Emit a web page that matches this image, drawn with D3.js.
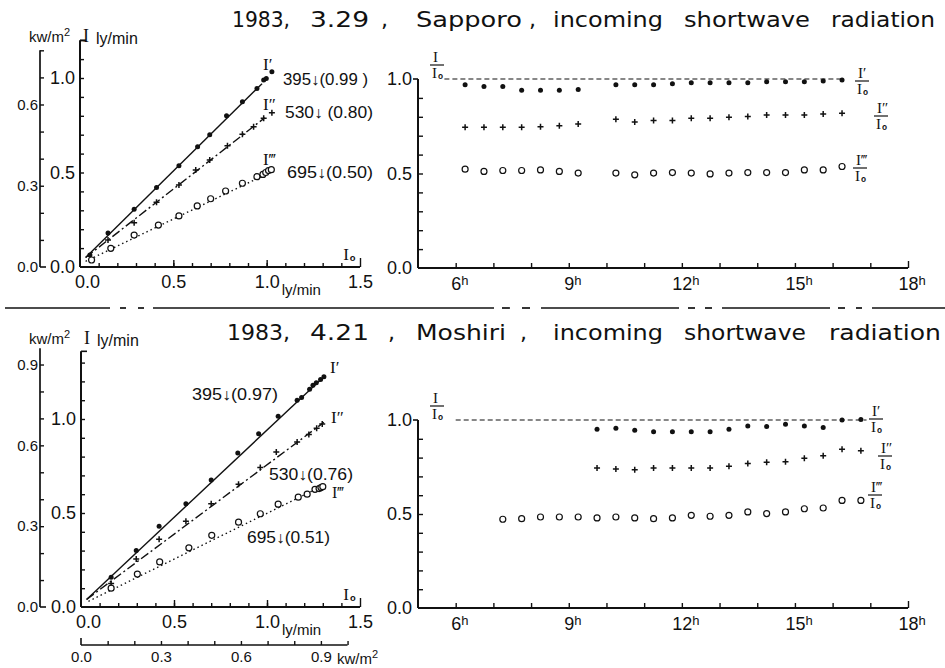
<!DOCTYPE html>
<html><head><meta charset="utf-8">
<script src="https://cdn.jsdelivr.net/npm/d3@7/dist/d3.min.js"></script>
<style>body{margin:0;background:#fff}svg{display:block;background:#fff}</style>
</head><body>
<svg id="c" width="945" height="668"></svg>
<script>
// ---------------- DATA ----------------
const LY2KW = 0.6978; // 1 ly/min = 0.6978 kW/m2

// Top-left (Sapporo): I vs I0, ly/min
const sapI0_1 = [0.053,0.15,0.29,0.41,0.53,0.63,0.695,0.785,0.87,0.948,0.984,0.998,1.028];
const sapI1   = [0.063,0.18,0.305,0.42,0.536,0.636,0.70,0.80,0.875,0.945,0.99,0.998,1.033];
const sapI0_2 = [0.15,0.29,0.41,0.53,0.62,0.695,0.79,0.87,0.93,0.984,1.028];
const sapI2   = [0.143,0.234,0.342,0.434,0.513,0.566,0.642,0.702,0.742,0.787,0.816];
const sapI0_3 = [0.062,0.165,0.29,0.42,0.53,0.628,0.70,0.78,0.87,0.948,0.98,0.995,1.01,1.025];
const sapI3   = [0.037,0.099,0.169,0.222,0.27,0.323,0.361,0.402,0.443,0.478,0.49,0.5,0.51,0.515];
const sapFit1 = [[0.03,0.05],[0.975,0.97]];
const sapFit2 = [[0.03,0.05],[0.99,0.79]];
const sapFit3 = [[0.03,0.03],[0.975,0.48]];

// Bottom-left (Moshiri)
const mosI0_1 = [0.162,0.297,0.42,0.564,0.70,0.843,0.955,1.06,1.162,1.186,1.229,1.247,1.265,1.288,1.306];
const mosI1   = [0.158,0.30,0.43,0.549,0.675,0.819,0.921,1.014,1.10,1.114,1.158,1.18,1.193,1.21,1.225];
const mosI0_2 = [0.162,0.297,0.42,0.564,0.70,0.847,0.964,1.05,1.162,1.225,1.267,1.297];
const mosI2   = [0.125,0.255,0.36,0.456,0.549,0.653,0.742,0.825,0.877,0.918,0.951,0.974];
const mosI0_3 = [0.162,0.303,0.423,0.58,0.703,0.847,0.964,1.06,1.168,1.216,1.258,1.28,1.29,1.30];
const mosI3   = [0.10,0.175,0.24,0.315,0.381,0.451,0.496,0.547,0.584,0.60,0.626,0.63,0.635,0.64];
const mosFit1 = [[0.03,0.04],[1.306,1.225]];
const mosFit2 = [[0.03,0.04],[1.306,0.982]];
const mosFit3 = [[0.04,0.03],[1.30,0.645]];

// Top-right (Sapporo): ratios vs hour
const sapHours = [6.25,6.75,7.25,7.75,8.25,8.75,9.25,10.25,10.75,11.25,11.75,12.25,12.75,13.25,13.75,14.25,14.75,15.25,15.75,16.25];
const sapR1 = [0.97,0.96,0.96,0.94,0.94,0.94,0.945,0.97,0.97,0.97,0.975,0.98,0.98,0.98,0.98,0.985,0.985,0.985,0.99,0.995];
const sapR2 = [0.745,0.745,0.745,0.745,0.748,0.752,0.762,0.787,0.773,0.78,0.78,0.792,0.792,0.798,0.801,0.81,0.81,0.81,0.815,0.819];
const sapR3 = [0.523,0.511,0.516,0.516,0.519,0.511,0.502,0.502,0.493,0.502,0.505,0.502,0.498,0.502,0.505,0.505,0.505,0.519,0.519,0.537];
const sapRefLine = [5.7,16.3];

// Bottom-right (Moshiri)
const mosHoursA = [9.75,10.25,10.75,11.25,11.75,12.25,12.75,13.25,13.75,14.25,14.75,15.25,15.75,16.25,16.75];
const mosR1 = [0.951,0.956,0.945,0.937,0.937,0.938,0.938,0.951,0.968,0.965,0.977,0.968,0.96,1.0,1.003];
const mosR2 = [0.745,0.739,0.736,0.745,0.745,0.745,0.745,0.754,0.769,0.775,0.778,0.796,0.81,0.845,0.836];
const mosHoursB = [7.25,7.75,8.25,8.75,9.25,9.75,10.25,10.75,11.25,11.75,12.25,12.75,13.25,13.75,14.25,14.75,15.25,15.75,16.25,16.75];
const mosR3 = [0.472,0.475,0.484,0.484,0.484,0.479,0.484,0.479,0.475,0.479,0.493,0.488,0.493,0.511,0.502,0.511,0.528,0.532,0.572,0.572];
const mosRefLine = [6.0,16.9];

// Tick labels
const lyTicks = [0, 0.5, 1.0];            const lyTickLabels = ["0.0","0.5","1.0"];
const lyXTicks = [0, 0.5, 1.0, 1.5];      const lyXTickLabels = ["0.0","0.5","1.0","1.5"];
const kwTicksTop = [0, 0.3, 0.6];         const kwTickLabelsTop = ["0.0","0.3","0.6"];
const kwTicksBot = [0, 0.3, 0.6, 0.9];    const kwTickLabelsBot = ["0.0","0.3","0.6","0.9"];
const ratioTicks = [0, 0.5, 1.0];         const ratioTickLabels = ["0.0","0.5","1.0"];
const hourTicks = [6, 9, 12, 15, 18];     const hourTickLabels = ["6","9","12","15","18"];

const titleTop = ["1983,","3.29",",","Sapporo",",","incoming","shortwave","radiation"];
const titleBot = ["1983,","4.21",",","Moshiri",",","incoming","shortwave","radiation"];

// ---------------- DRAWING ----------------
const INK = "#111";
const SANS = "'Liberation Sans', Arial, sans-serif";
const TSANS = "'DejaVu Sans', 'Liberation Sans', sans-serif";
const SERIF = "'Liberation Serif', 'DejaVu Serif', serif";
const svg = d3.select("#c");

function styleAxis(s, size, fam) {
  s.select(".domain").remove();
  s.attr("font-size", size).attr("font-family", fam).attr("color", INK);
  s.selectAll("line").attr("stroke-width", 1.4);
}
function vline(g, x, y1, y2, w) {
  g.append("line").attr("x1", x).attr("x2", x).attr("y1", y1).attr("y2", y2)
    .attr("stroke", INK).attr("stroke-width", w || 2);
}
function hline(g, y, x1, x2, w) {
  g.append("line").attr("x1", x1).attr("x2", x2).attr("y1", y).attr("y2", y)
    .attr("stroke", INK).attr("stroke-width", w || 2);
}
function txt(g, x, y, s, size, fam, anchor) {
  return g.append("text").attr("x", x).attr("y", y).text(s)
    .attr("font-size", size).attr("font-family", fam || SANS)
    .attr("fill", INK).attr("text-anchor", anchor || "start");
}
function sym(g, kind, px, py) {
  if (kind === "dot") g.append("circle").attr("cx", px).attr("cy", py).attr("r", 2.5).attr("fill", INK);
  else if (kind === "plus") g.append("path").attr("d", `M${px-3},${py}H${px+3}M${px},${py-3}V${py+3}`).attr("stroke", INK).attr("stroke-width", 1.5);
  else g.append("circle").attr("cx", px).attr("cy", py).attr("r", 3).attr("fill", "#fff").attr("stroke", INK).attr("stroke-width", 1.2);
}
function Io(g, x, y, size) {
  const t = txt(g, x, y, "I", size, SERIF);
  t.append("tspan").attr("font-family", SANS).attr("font-weight", "bold")
    .attr("font-size", size * 0.55).attr("dy", 1).attr("dx", 1).text("o");
  return t;
}
// fraction I(primes) / Io drawn as one text element with stacked tspans
function frac(g, cx, barY, primes) {
  const fs = 15;
  const t = g.append("text").attr("font-family", SERIF).attr("font-size", fs).attr("fill", INK);
  t.append("tspan").attr("x", cx - 4).attr("y", barY - 3).text("I" + primes);
  t.append("tspan").attr("x", cx - 5).attr("y", barY + 13).text("I");
  t.append("tspan").attr("font-family", SANS).attr("font-weight", "bold")
    .attr("font-size", fs * 0.55).attr("dy", 1).attr("dx", 1).text("o");
  hline(g, barY, cx - 7, cx + 7, 1.2);
}
function title(g, parts, xs, base, lens) {
  parts.forEach((p, i) => {
    const t = txt(g, xs[i], base, p, 22, TSANS);
    if (lens[i]) t.attr("textLength", lens[i]).attr("lengthAdjust", "spacingAndGlyphs");
  });
}

// ---------- Left panels ----------
function leftPanel(c) {
  const g = svg.append("g");
  const x = d3.scaleLinear().domain([0, 1.5]).range([c.xl, c.xr]);
  const y = d3.scaleLinear().domain([0, 1]).range([c.yb, c.yt]);
  const kwY = d3.scaleLinear().domain([0, 1]).range([c.yb, y(1 / LY2KW)]);

  // main vertical axis (ly/min)
  vline(g, x(0), y(0), y(c.yTop));
  g.append("g").attr("transform", `translate(${x(0)},0)`)
    .call(d3.axisRight(y).tickValues(d3.range(0.1, c.yTop + 0.001, 0.1)).tickSize(4).tickFormat(""))
    .call(s => styleAxis(s, 12, SANS));
  hline(g, y(c.yTop), x(0), x(0) + 6, 1.6);
  g.append("g").attr("transform", `translate(${x(0) - 5},0)`)
    .call(d3.axisLeft(y).tickValues(lyTicks).tickSize(0).tickPadding(0).tickFormat((d, i) => lyTickLabels[i]))
    .call(s => styleAxis(s, 18, SANS));

  // secondary vertical axis (kW/m2)
  vline(g, c.kwX, kwY(0), kwY(c.kwTop), 1.7);
  g.append("g").attr("transform", `translate(${c.kwX},0)`)
    .call(d3.axisRight(kwY).tickValues(d3.range(0.1, c.kwTop + 0.001, 0.1)).tickSize(4).tickFormat(""))
    .call(s => styleAxis(s, 12, SANS));
  hline(g, kwY(0), c.kwX, c.kwX + 6, 1.6);
  g.append("g").attr("transform", `translate(${c.kwX - 2},0)`)
    .call(d3.axisLeft(kwY).tickValues(c.kwTicks).tickSize(0).tickPadding(0).tickFormat((d, i) => c.kwLabels[i]))
    .call(s => styleAxis(s, 15, SANS));

  // horizontal axis (I0 ly/min)
  hline(g, y(0), x(0), x(1.5));
  g.append("g").attr("transform", `translate(0,${y(0)})`)
    .call(d3.axisTop(x).tickValues(d3.range(0.1, 1.45, 0.1)).tickSize(4).tickFormat(""))
    .call(s => styleAxis(s, 12, SANS));
  g.append("g").attr("transform", `translate(0,${y(0)})`)
    .call(d3.axisTop(x).tickValues([0.5, 1.0]).tickSize(7).tickFormat(""))
    .call(s => styleAxis(s, 12, SANS));
  g.append("g").attr("transform", `translate(0,${y(0)})`)
    .call(d3.axisTop(x).tickValues([1.5]).tickSize(9).tickFormat(""))
    .call(s => styleAxis(s, 12, SANS));
  const xl = g.append("g").attr("transform", `translate(0,${y(0)})`)
    .call(d3.axisBottom(x).tickValues(lyXTicks).tickSize(0).tickPadding(8).tickFormat((d, i) => lyXTickLabels[i]))
    .call(s => styleAxis(s, 18, SANS));
  xl.selectAll(".tick text").filter(d => d === 0).attr("x", 7);
  txt(g, x(1.0) + 15, y(0) + 28, "ly/min", 15, SANS);
  Io(g, x(1.41), y(0) - 7, 17);

  // axis titles
  const k = txt(g, c.kwX - 11, c.titleY, "kw/m", 15, SANS);
  k.append("tspan").attr("dy", -6).attr("font-size", 11).text("2");
  txt(g, x(0) + 3, c.titleY, "I", 18, SERIF);
  txt(g, x(0) + 16, c.titleY + 2, "ly/min", 16, SANS);

  // lines
  const ln = d3.line().x(d => x(d[0])).y(d => y(d[1]));
  g.append("path").attr("d", ln(c.fit1)).attr("fill", "none").attr("stroke", INK).attr("stroke-width", 1.4);
  g.append("path").attr("d", ln(c.fit2)).attr("fill", "none").attr("stroke", INK).attr("stroke-width", 1.4).attr("stroke-dasharray", "9,3,2,3");
  g.append("path").attr("d", ln(c.fit3)).attr("fill", "none").attr("stroke", INK).attr("stroke-width", 1.4).attr("stroke-dasharray", "1.5,3");

  // points
  c.s1x.forEach((v, i) => sym(g, "dot", x(v), y(c.s1y[i])));
  c.s2x.forEach((v, i) => sym(g, "plus", x(v), y(c.s2y[i])));
  c.s3x.forEach((v, i) => sym(g, "ring", x(v), y(c.s3y[i])));
  return { g, x, y };
}

// Top-left
const tl = leftPanel({
  xl: 80, xr: 360, yb: 267, yt: 78, yTop: 1.2, kwX: 40, kwTop: 0.8, titleY: 42,
  kwTicks: kwTicksTop, kwLabels: kwTickLabelsTop,
  fit1: sapFit1, fit2: sapFit2, fit3: sapFit3,
  s1x: sapI0_1, s1y: sapI1, s2x: sapI0_2, s2y: sapI2, s3x: sapI0_3, s3y: sapI3
});
txt(tl.g, 263, 70, "I\u2032", 17, SERIF);
txt(tl.g, 263, 110, "I\u2033", 17, SERIF);
txt(tl.g, 263, 165, "I\u2034", 17, SERIF);
txt(tl.g, 283, 85, "395\u2193(0.99 )", 16, SANS).attr("textLength", 85).attr("lengthAdjust", "spacingAndGlyphs");
txt(tl.g, 285, 118, "530\u2193 (0.80)", 16, SANS).attr("textLength", 88).attr("lengthAdjust", "spacingAndGlyphs");
txt(tl.g, 287, 178, "695\u2193(0.50)", 16, SANS).attr("textLength", 86).attr("lengthAdjust", "spacingAndGlyphs");

// Bottom-left
const bl = leftPanel({
  xl: 81, xr: 360, yb: 607, yt: 419, yTop: 1.36, kwX: 40, kwTop: 0.96, titleY: 344,
  kwTicks: kwTicksBot, kwLabels: kwTickLabelsBot,
  fit1: mosFit1, fit2: mosFit2, fit3: mosFit3,
  s1x: mosI0_1, s1y: mosI1, s2x: mosI0_2, s2y: mosI2, s3x: mosI0_3, s3y: mosI3
});
{
  // secondary horizontal axis (kW/m2)
  const kx = d3.scaleLinear().domain([0, 1]).range([bl.x(0), bl.x(1 / LY2KW)]);
  hline(bl.g, 645, kx(0), kx(1.0), 1.7);
  bl.g.append("g").attr("transform", `translate(0,645)`)
    .call(d3.axisTop(kx).tickValues(d3.range(0.1, 1.001, 0.1)).tickSize(4).tickFormat(""))
    .call(s => styleAxis(s, 12, SANS));
  vline(bl.g, kx(0), 645, 638, 1.6);
  bl.g.append("g").attr("transform", `translate(0,645)`)
    .call(d3.axisBottom(kx).tickValues(kwTicksBot).tickSize(0).tickPadding(6).tickFormat((d, i) => kwTickLabelsBot[i]))
    .call(s => styleAxis(s, 15, SANS));
  const k2 = txt(bl.g, 337, 664, "kw/m", 15, SANS);
  k2.append("tspan").attr("dy", -6).attr("font-size", 11).text("2");
}
txt(bl.g, 330, 373, "I\u2032", 17, SERIF);
txt(bl.g, 331, 423, "I\u2033", 17, SERIF);
txt(bl.g, 332, 498, "I\u2034", 16, SERIF);
txt(bl.g, 192, 400, "395\u2193(0.97)", 16, SANS).attr("textLength", 86).attr("lengthAdjust", "spacingAndGlyphs");
txt(bl.g, 269, 480, "530\u2193(0.76)", 16, SANS).attr("textLength", 84).attr("lengthAdjust", "spacingAndGlyphs");
txt(bl.g, 247, 543, "695\u2193(0.51)", 16, SANS).attr("textLength", 83).attr("lengthAdjust", "spacingAndGlyphs");

// ---------- Right panels ----------
function rightPanel(c) {
  const g = svg.append("g");
  const x = d3.scaleLinear().domain([5, 18]).range([418, 908]);
  const y = d3.scaleLinear().domain([0, 1]).range([c.yb, c.yt]);
  vline(g, x(5), y(0), y(1));
  g.append("g").attr("transform", `translate(${x(5)},0)`)
    .call(d3.axisRight(y).tickValues(d3.range(0.1, 0.95, 0.1)).tickSize(5).tickFormat(""))
    .call(s => styleAxis(s, 12, SANS));
  hline(g, y(1), x(5) - 5, x(5), 1.6);
  g.append("g").attr("transform", `translate(${x(5) - 6},0)`)
    .call(d3.axisLeft(y).tickValues(ratioTicks).tickSize(0).tickPadding(0).tickFormat((d, i) => ratioTickLabels[i]))
    .call(s => styleAxis(s, 18, SANS));

  hline(g, y(0), x(5), x(18));
  g.append("g").attr("transform", `translate(0,${y(0)})`)
    .call(d3.axisTop(x).tickValues(d3.range(6, 17.5, 1)).tickSize(5).tickFormat(""))
    .call(s => styleAxis(s, 12, SANS));
  g.append("g").attr("transform", `translate(0,${y(0)})`)
    .call(d3.axisTop(x).tickValues([18]).tickSize(7).tickFormat(""))
    .call(s => styleAxis(s, 12, SANS));
  const ha = g.append("g").attr("transform", `translate(0,${y(0)})`)
    .call(d3.axisBottom(x).tickValues(hourTicks).tickSize(0).tickPadding(9).tickFormat((d, i) => hourTickLabels[i]))
    .call(s => styleAxis(s, 18, SANS));
  ha.selectAll(".tick text").each(function () {
    const w = this.getComputedTextLength();
    const t = d3.select(this).attr("text-anchor", "start").attr("x", -w / 2);
    t.append("tspan").attr("dy", "-0.4em").attr("font-size", 13).text("h");
  });

  // reference line at 1.0
  g.append("line").attr("x1", x(c.ref[0])).attr("x2", x(c.ref[1])).attr("y1", y(1)).attr("y2", y(1))
    .attr("stroke", INK).attr("stroke-width", 1.2).attr("stroke-dasharray", "5,3");

  c.h1.forEach((h, i) => sym(g, "dot", x(h), y(c.r1[i])));
  c.h2.forEach((h, i) => sym(g, "plus", x(h), y(c.r2[i])));
  c.h3.forEach((h, i) => sym(g, "ring", x(h), y(c.r3[i])));
  return { g, x, y };
}

const tr = rightPanel({ yb: 268, yt: 79, ref: sapRefLine,
  h1: sapHours, r1: sapR1, h2: sapHours, r2: sapR2, h3: sapHours, r3: sapR3 });
frac(tr.g, 437, 65, "");
frac(tr.g, 862, 81, "\u2032");
frac(tr.g, 881, 116, "\u2033");
frac(tr.g, 860, 168, "\u2034");

const br = rightPanel({ yb: 608, yt: 420, ref: mosRefLine,
  h1: mosHoursA, r1: mosR1, h2: mosHoursA, r2: mosR2, h3: mosHoursB, r3: mosR3 });
frac(br.g, 437, 406, "");
frac(br.g, 876, 419, "\u2032");
frac(br.g, 885, 456, "\u2033");
frac(br.g, 875, 495, "\u2034");

// ---------- Titles ----------
title(svg, titleTop, [232, 310, 381, 416, 529, 553, 684, 831], 27, [58, 59, 0, 106, 0, 110, 126, 104]);
title(svg, titleBot, [227, 310, 388, 416, 520, 553, 684, 829], 340, [63, 59, 0, 90, 0, 110, 122, 112]);

// ---------- Divider ----------
const divSegs = [[5,110],[120,126],[138,144],[153,494],[502,510],[522,530],[541,679],[688,695],[705,712],[722,830],[838,845],[856,862],[872,945]];
divSegs.forEach(s => hline(svg, 308, s[0], s[1], 1.7));
</script>
</body></html>
